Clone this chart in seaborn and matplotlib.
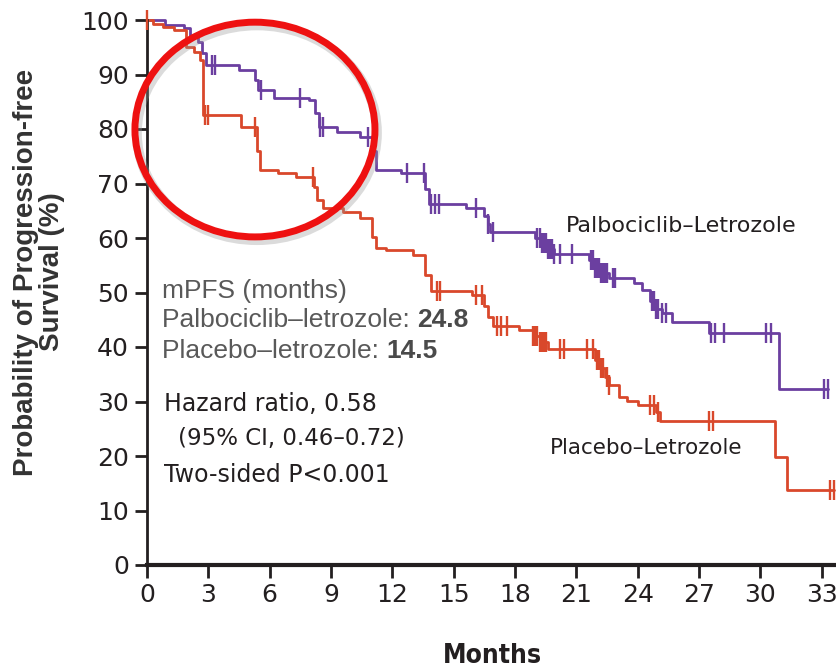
import numpy as np
import matplotlib
matplotlib.use('Agg')
import matplotlib.pyplot as plt
from matplotlib.patches import Ellipse
import seaborn as sns

# Palbociclib-Letrozole curve (months, % progression-free)
pal_t = [0, 0.9, 1.8, 2.1, 2.5, 2.7, 2.9, 4.5, 5.3, 5.45, 6.2, 7.9, 8.2, 8.4, 9.3, 10.4,
         11.0, 11.2, 12.4, 13.6, 13.8, 15.6, 16.5, 16.7, 16.8, 19.0, 19.3, 19.6, 19.9,
         21.6, 21.9, 22.2, 22.6, 23.8, 24.2, 24.6, 24.9, 25.2, 25.7, 27.5, 30.9, 33.3]
pal_s = [100, 99, 98.5, 97, 96, 94, 91.7, 90.8, 89, 87.2, 85.7, 85.3, 83, 80.4, 79.5, 78.5,
         76, 72.5, 71.9, 69, 66.3, 65.5, 64, 62.5, 61.1, 60, 59, 58, 57,
         56, 54.5, 53.5, 52.7, 51.7, 50.5, 48.5, 47, 46.2, 44.6, 42.6, 32.3, 32.3]
pal_cens = [3.2, 3.35, 5.6, 7.5, 8.45, 8.6, 10.8, 12.7, 13.55, 13.9, 14.1, 14.3, 16.1, 16.7,
            16.9, 19.1, 19.2, 19.3, 19.4, 19.5, 19.6, 19.7, 19.8, 19.9, 20.2, 20.8, 21.7,
            21.8, 21.9, 22.0, 22.1, 22.2, 22.3, 22.4, 22.5, 22.8, 22.9, 24.7, 24.8, 24.9,
            25.0, 25.2, 25.4, 27.6, 27.8, 28.2, 30.3, 30.5, 33.1, 33.3]

# Placebo-Letrozole curve
pla_t = [0, 0.3, 0.8, 1.3, 1.9, 2.3, 2.6, 2.75, 4.6, 5.4, 5.55, 6.4, 7.3, 8.15, 8.3, 8.6,
         9.6, 10.4, 11.0, 11.2, 11.7, 13.0, 13.6, 13.9, 15.9, 16.5, 16.7, 16.9, 18.2, 18.9,
         19.2, 19.6, 21.9, 22.2, 22.4, 22.6, 23.1, 23.5, 24.0, 24.9, 25.1, 30.7, 31.3, 33.6]
pla_s = [100, 99.3, 98.7, 98.2, 95, 94.1, 92.7, 82.6, 80.4, 76, 72.5, 71.9, 71.2, 69.4, 67, 65.5,
         64.8, 63.7, 60.2, 58.2, 57.8, 56.8, 53.2, 50.3, 49.6, 47.5, 45.5, 43.9, 43.1, 42,
         41, 39.6, 37.6, 36.1, 34.5, 33, 30.8, 30.1, 29.4, 28, 26.4, 19.8, 13.7, 13.7]
pla_cens = [0, 2.85, 3.0, 5.3, 8.1, 14.2, 14.35, 16.1, 16.4, 17.1, 17.3, 17.6, 18.9, 19.0,
            19.1, 19.2, 19.3, 19.4, 19.5, 20.2, 20.4, 21.5, 21.8, 22.0, 22.1, 22.2, 22.3,
            22.5, 22.6, 24.6, 24.8, 25.0, 27.5, 27.7, 33.4, 33.6]

x_ticks = [0, 3, 6, 9, 12, 15, 18, 21, 24, 27, 30, 33]
y_ticks = [0, 10, 20, 30, 40, 50, 60, 70, 80, 90, 100]

purple = '#6b3fa0'
red = '#d9482b'
ink = '#231f20'


def step_value(t, s, c):
    idx = np.searchsorted(t, c, side='right') - 1
    return np.asarray(s)[idx]


sns.set_style('ticks')
plt.rcParams['font.family'] = ['Liberation Sans Narrow', 'DejaVu Sans']

fig = plt.figure(figsize=(8.37, 6.71), dpi=100)
ax = fig.add_axes([147 / 837, 106 / 671, 690 / 837, 545 / 671])

sns.lineplot(x=pal_t, y=pal_s, drawstyle='steps-post', estimator=None, color=purple,
             lw=2, ax=ax, clip_on=False)
sns.lineplot(x=pla_t, y=pla_s, drawstyle='steps-post', estimator=None, color=red,
             lw=2, ax=ax, clip_on=False)
sns.scatterplot(x=pal_cens, y=step_value(pal_t, pal_s, pal_cens), marker='|', s=220,
                linewidth=1.7, color=purple, ax=ax, clip_on=False, zorder=3)
sns.scatterplot(x=pla_cens, y=step_value(pla_t, pla_s, pla_cens), marker='|', s=220,
                linewidth=1.7, color=red, ax=ax, clip_on=False, zorder=3)

ax.set_xlim(0, 33.75)
ax.set_ylim(0, 100)
ax.set_xticks(x_ticks)
ax.set_yticks(y_ticks)
ax.tick_params(axis='both', labelsize=18, colors=ink, length=9, width=2, pad=4)
for side in ['top', 'right']:
    ax.spines[side].set_visible(False)
ax.spines['left'].set_linewidth(2)
ax.spines['bottom'].set_linewidth(3)
ax.spines['left'].set_color(ink)
ax.spines['bottom'].set_color(ink)

ax.set_xlabel('Months', fontsize=19, fontweight='bold', color=ink, labelpad=26,
              fontstretch='condensed')
ax.set_ylabel('')
fig.text(0.046, 1 - 272 / 671, 'Probability of Progression-free\nSurvival (%)', rotation=90,
         ha='center', va='center', multialignment='center', fontsize=20, fontweight='bold',
         color='#333333', family=['Liberation Sans', 'DejaVu Sans'], linespacing=1.0)

# curve labels
ax.text(20.5, 62.2, 'Palbociclib–Letrozole', fontsize=16, color=ink, va='center')
ax.text(19.7, 21.5, 'Placebo–Letrozole', fontsize=15.5, color=ink, va='center')

# mPFS box
gray = '#595959'
sans = ['Liberation Sans', 'DejaVu Sans']
ax.text(0.75, 48.1, 'mPFS (months)', fontsize=19, color=gray, family=sans, va='bottom')
t1 = ax.text(0.75, 42.8, 'Palbociclib–letrozole: ', fontsize=19, color=gray, family=sans,
             va='bottom')
ax.annotate('24.8', xy=(1, 0), xycoords=t1, va='bottom', ha='left', fontsize=19,
            fontweight='bold', color='#4a4a4a', family=sans)
t2 = ax.text(0.75, 37.1, 'Placebo–letrozole: ', fontsize=19, color=gray, family=sans,
             va='bottom')
ax.annotate('14.5', xy=(1, 0), xycoords=t2, va='bottom', ha='left', fontsize=19,
            fontweight='bold', color='#4a4a4a', family=sans)

# hazard ratio text
ax.text(0.85, 29.5, 'Hazard ratio, 0.58', fontsize=17, color=ink, va='center')
ax.text(1.5, 23.3, '(95% CI, 0.46–0.72)', fontsize=16.5, color=ink, va='center')
ax.text(0.85, 16.5, 'Two-sided P<0.001', fontsize=17, color=ink, va='center')

# highlight circle with soft shadow
shadow = Ellipse((5.38, 79.3), 11.74, 39.4, fill=False, lw=7, ec='#999999', alpha=0.35,
                 clip_on=False, zorder=4)
ax.add_patch(shadow)
circle = Ellipse((5.28, 79.9), 11.74, 39.4, fill=False, lw=5, ec='#ee1111', clip_on=False,
                 zorder=5)
ax.add_patch(circle)

fig.savefig('out.png', dpi=100)
